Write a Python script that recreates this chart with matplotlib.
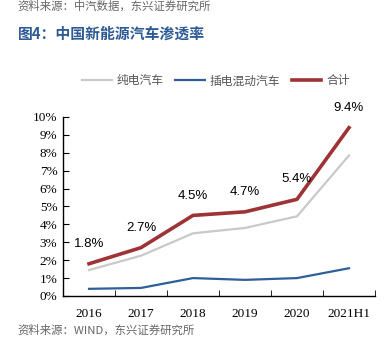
import numpy as np
import matplotlib.pyplot as plt

plt.rcParams['font.family'] = ['Noto Sans CJK SC', 'DejaVu Sans']

years = ['2016', '2017', '2018', '2019', '2020', '2021H1']
bev = [1.45, 2.25, 3.5, 3.8, 4.45, 7.85]      # 纯电汽车
phev = [0.4, 0.45, 1.0, 0.9, 1.0, 1.55]       # 插电混动汽车
total = [1.8, 2.7, 4.5, 4.7, 5.4, 9.4]        # 合计
yticks = [0, 1, 2, 3, 4, 5, 6, 7, 8, 9, 10]

fig = plt.figure(figsize=(3.89, 3.37), dpi=100)
ax = fig.add_axes([0.162, 0.1217, 0.802, 0.5313])

x = np.arange(len(years))
ax.plot(x, bev, color='#C9C9C9', lw=1.6, label='纯电汽车')
ax.plot(x, phev, color='#2F5F98', lw=1.6, label='插电混动汽车')
ax.plot(x, total, color='#9E3336', lw=2.6, label='合计')

for xi, v in zip(x, total):
    ax.annotate('%.1f%%' % v, (xi, v), xytext=(0, 10), textcoords='offset points',
                ha='center', va='bottom', fontsize=9.5, family='Liberation Sans')

ax.set_xlim(-0.5, len(years) - 0.5)
ax.set_ylim(0, 10)
ax.set_yticks(yticks)
ax.set_yticklabels(['%d%%' % t for t in yticks], family='Liberation Serif', fontsize=9.5)
ax.set_xticks(x)
ax.set_xticklabels(years, family='Liberation Serif', fontsize=9.5)
ax.set_xticks(np.arange(len(years) + 1) - 0.5, minor=True)
ax.tick_params(axis='x', which='major', length=0, pad=9)
ax.tick_params(axis='x', which='minor', direction='in', length=4)
ax.tick_params(axis='y', direction='in', length=4, pad=4)
for s in ['top', 'right']:
    ax.spines[s].set_visible(False)
for s in ['left', 'bottom']:
    ax.spines[s].set_color('black')
    ax.spines[s].set_linewidth(1)

fig.legend(loc='center', bbox_to_anchor=(0.555, 0.76), ncol=3, frameon=False,
           fontsize=8.5, handlelength=2.5, columnspacing=1.0, handletextpad=0.4,
           labelcolor='#555555')

fig.text(0.046, 1 - 6 / 337, '资料来源：中汽数据，东兴证券研究所', fontsize=8.2,
         color='#666666', style='italic', va='center')
fig.text(0.046, 1 - 34 / 337, '图4：中国新能源汽车渗透率', fontsize=10.7,
         color='#2E5A93', weight='bold', va='center')
fig.text(0.046, 1 - 330 / 337, '资料来源：WIND，东兴证券研究所', fontsize=8.2,
         color='#666666', style='italic', va='center')

fig.savefig('out.png', dpi=100)
